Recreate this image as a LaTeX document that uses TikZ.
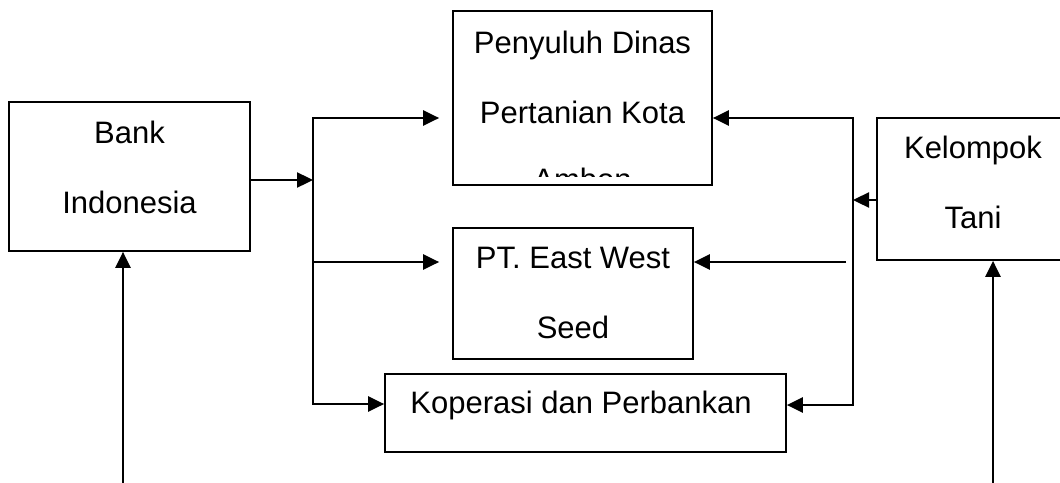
\documentclass[tikz,border=0pt]{standalone}
\usepackage{fontspec}
\setmainfont{Liberation Sans}
\usetikzlibrary{arrows.meta,positioning,calc}

\begin{document}
\begin{tikzpicture}[
  x=1pt, y=-1pt,
  box/.style={draw=black, line width=1.7pt, inner sep=0pt},
  txt/.style={font=\fontsize{31}{70}\selectfont, align=center, inner sep=0pt},
  arr/.style={-{Triangle[length=16pt,width=15pt]}, line width=2.4pt},
  biarr/.style={{Triangle[length=16pt,width=15pt]}-{Triangle[length=16pt,width=15pt]}, line width=2.4pt}
]
\clip (0,0) rectangle (1060,482);

\node[box, minimum width=241pt, minimum height=149pt] (bank) at (129.5,176.5) {};
\node[box, minimum width=259pt, minimum height=174pt] (peny) at (582.5,98) {};
\node[box, minimum width=240pt, minimum height=131pt] (pt) at (573,293.5) {};
\node[box, minimum width=401pt, minimum height=78pt] (kop) at (585.5,413) {};
\node[box, minimum width=192pt, minimum height=142pt] (kel) at (973,189) {};

\node[txt] (banktxt) at (129.5,167) {Bank\\Indonesia};
\node[txt] (penytxt) at (582.5,77) {Penyuluh Dinas\\Pertanian Kota};
\begin{scope}
  \clip (peny.north west) rectangle ($(peny.south east)+(0,-9.5)$);
  \node[txt] (ambon) at (582.5,179) {Ambon};
\end{scope}
\node[txt] (pttxt) at (573,293) {PT. East West\\Seed};
\node[txt] (koptxt) at (581,405) {Koperasi dan Perbankan};
\node[txt] (keltxt) at (973,182.5) {Kelompok\\Tani};

\coordinate (split) at (313,180);
\coordinate (ltop) at (313,118);
\coordinate (lbot) at (313,404);
\coordinate (rtop) at (853,118);
\coordinate (rbot) at (853,405);
\coordinate (join) at (853,200);
\coordinate (rmid) at (846,262);
\coordinate (bl) at (123,490);
\coordinate (br) at (993,490);

% left distribution
\draw[arr] (bank.east |- split) -- (split);
\draw[biarr] ([xshift=-13pt]peny.west |- ltop) -- (ltop) -- (lbot) -- (kop.west |- lbot);
\draw[arr] (ltop |- rmid) -- ([xshift=-13pt]pt.west |- rmid);

% right collection
\draw[biarr] (peny.east |- rtop) -- (rtop) -- (rbot) -- (kop.east |- rbot);
\draw[arr] (kel.west |- join) -- (join);
\draw[arr] (rmid) -- (pt.east |- rmid);

% bottom inputs
\draw[arr] (bl) -- (bl |- bank.south);
\draw[arr] (br) -- (br |- kel.south);
\end{tikzpicture}
\end{document}
